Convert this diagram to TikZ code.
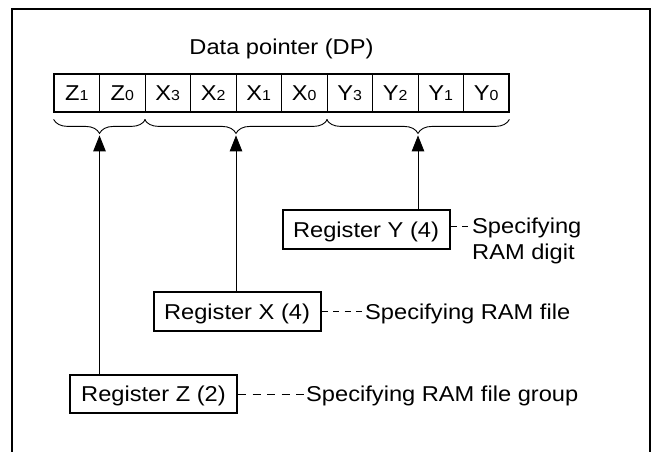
\documentclass[tikz,border=0pt]{standalone}
\usepackage{fontspec}
\setmainfont[FakeStretch=1.1]{Liberation Sans}
\usetikzlibrary{arrows.meta,calc,decorations.pathreplacing}
\newcommand{\dpsub}[1]{{\fontsize{14.5}{14.5}\selectfont#1}}
\begin{document}
\begin{tikzpicture}[x=1pt,y=-1pt,>={Triangle[length=16pt,width=12.5pt]},
  txt/.style={font=\fontsize{21.5}{26}\selectfont, inner sep=0pt},
  cell/.style={txt, draw, line width=0.8pt, minimum width=45.5pt, minimum height=38pt, text height=14pt, text depth=0pt},
  regbox/.style={txt, draw, line width=2pt, minimum width=167pt, minimum height=38pt, text height=15.5pt, text depth=0pt},
  desc/.style={txt, text height=15.5pt, text depth=0pt},
  brc/.style={decorate, decoration={brace, mirror, amplitude=14pt}, line width=0.9pt},
  dashline/.style={line width=0.9pt, dash pattern=on 6pt off 5.5pt}]
\useasboundingbox (0,0) rectangle (653,452);
\draw[line width=2pt](12,460)--(12,9.3)--(650,9.3)--(650,460);

\node[txt, anchor=base](title) at (281.5,55) {Data pointer (DP)};

\foreach \lab [count=\i] in {Z\dpsub1,Z\dpsub0,X\dpsub3,X\dpsub2,X\dpsub1,X\dpsub0,Y\dpsub3,Y\dpsub2,Y\dpsub1,Y\dpsub0}
{
    \node[cell](c\i) at ({54+45.5*(\i-0.5)},93) {\lab};
}
\draw[line width=2pt](c1.north west) rectangle (c10.south east);

\draw[brc]([yshift=-7pt]c1.south west)--([yshift=-7pt]c2.south east);
\draw[brc]([yshift=-7pt]c3.south west)--([yshift=-7pt]c6.south east);
\draw[brc]([yshift=-7pt]c7.south west)--([yshift=-7pt]c10.south east);
\coordinate (ztip) at ($(c1.south west)!0.5!(c2.south east)+(0,23)$);
\coordinate (xtip) at ($(c3.south west)!0.5!(c6.south east)+(0,23)$);
\coordinate (ytip) at ($(c7.south west)!0.5!(c10.south east)+(0,23)$);

\node[regbox, minimum height=39pt](yreg) at (366,229.5) {Register Y (4)};
\node[regbox, minimum height=39pt](xreg) at (237,311.5) {Register X (4)};
\node[regbox](zreg) at (153.5,394) {Register Z (2)};

\draw[->, line width=0.9pt](ytip |- yreg.north)--(ytip);
\draw[->, line width=0.9pt](xtip |- xreg.north)--(xtip);
\draw[->, line width=0.9pt](ztip |- zreg.north)--(ztip);

\node[txt, align=left, anchor=north west](ydesc) at (472,217.5) {Specifying\\RAM digit};
\node[desc, anchor=west](xdesc) at (365,311.5) {Specifying RAM file};
\node[desc, anchor=west](zdesc) at (306,394) {Specifying RAM file group};

\draw[dashline]([yshift=3.5pt]yreg.east)--([yshift=3.5pt]yreg.east -| ydesc.west);
\draw[dashline](xreg.east)--(xdesc.west);
\draw[dashline, dash pattern=on 8pt off 6.5pt](zreg.east)--(zdesc.west);
\end{tikzpicture}
\end{document}
